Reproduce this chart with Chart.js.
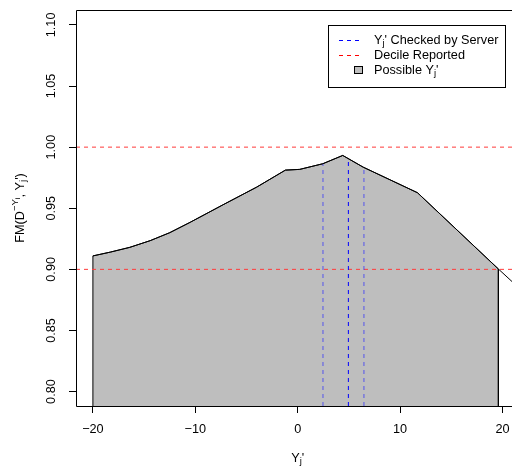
<!DOCTYPE html>
<html>
<head>
<meta charset="utf-8">
<script src="https://cdn.jsdelivr.net/npm/chart.js@4.4.1/dist/chart.umd.min.js"></script>
<style>
  html, body { margin: 0; padding: 0; background: #fff; }
</style>
</head>
<body>
<canvas id="fmChart" width="512" height="471"></canvas>
<script>
// curve
var curveX = [-20, -18.3, -16.4, -14.4, -12.5, -10.5, -7.3, -4.0, -1.2, 0.2, 2.45, 4.4, 6.4, 11.7, 19.6, 21.0];
var curveY = [0.9110, 0.9141, 0.9180, 0.9235, 0.9300, 0.9385, 0.9528, 0.9673, 0.9812, 0.9818, 0.9864, 0.9932, 0.9836, 0.9627, 0.9003, 0.8895];
var fillEnd = 19.6;

// values checked by the server (blue), decile lines (red)
var checkedX = [2.47, 4.95, 6.47];
var checkedTop = [0.9864, 0.9905, 0.9833];
var decileY = [0.90, 1.00];

var xTicks = [-20, -10, 0, 10, 20];
var yTicks = [0.80, 0.85, 0.90, 0.95, 1.00, 1.05, 1.10];
var xRange = [-21.65, 20.93];
var yRange = [0.7882, 1.1122];

var font = "'Liberation Sans', Arial, sans-serif";
var fs = 12.7;

// the shaded area: closed down to the axis at both ends
var areaPts = [{x: curveX[0], y: yRange[0]}];
curveX.forEach(function(x, i) {
  if (x <= fillEnd) areaPts.push({x: x, y: curveY[i]});
});
areaPts.push({x: fillEnd, y: yRange[0]});

var linePts = curveX.map(function(x, i) { return {x: x, y: curveY[i]}; });

var datasets = [];
// curve on top
datasets.push({
  data: linePts, borderColor: '#000', borderWidth: 1, pointRadius: 0, fill: false, order: 0
});
var blueCols = ['rgba(40,40,255,0.7)', '#0000ff', 'rgba(40,40,255,0.7)'];
checkedX.forEach(function(x, i) {
  datasets.push({
    data: [{x: x, y: yRange[0]}, {x: x, y: checkedTop[i]}],
    borderColor: blueCols[i], borderWidth: 1, borderDash: [4, 4], pointRadius: 0, fill: false, order: 1
  });
});
decileY.forEach(function(y) {
  datasets.push({
    data: [{x: xRange[0], y: y}, {x: xRange[1], y: y}],
    borderColor: '#ff3b3b', borderWidth: 1, borderDash: [4, 4], pointRadius: 0, fill: false, order: 2
  });
});
datasets.push({
  data: areaPts, borderColor: '#000', borderWidth: 1, backgroundColor: '#bebebe',
  pointRadius: 0, fill: 'start', order: 3
});

// text with sub/superscripts: parts = [[text, mode]], 0 normal, 1 sub, 2 sup, 3 sub of sup
function partSize(mode, size) {
  return mode === 0 ? size : (mode === 3 ? size * 0.6 : size * 0.75);
}
function drawRich(ctx, parts, x, y, size, align) {
  var w = 0;
  parts.forEach(function(p) {
    ctx.font = partSize(p[1], size) + 'px ' + font;
    w += ctx.measureText(p[0]).width;
  });
  var cx = align === 'center' ? x - w / 2 : x;
  ctx.textBaseline = 'middle';
  ctx.textAlign = 'left';
  parts.forEach(function(p) {
    var dy = 0;
    if (p[1] === 1) dy = size * 0.3;
    if (p[1] === 2) dy = -size * 0.38;
    if (p[1] === 3) dy = -size * 0.2;
    ctx.font = partSize(p[1], size) + 'px ' + font;
    ctx.fillText(p[0], cx, y + dy);
    cx += ctx.measureText(p[0]).width;
  });
}

var extras = {
  id: 'extras',
  afterDraw: function(chart) {
    var ctx = chart.ctx, a = chart.chartArea;
    ctx.save();
    // box (right side is cut by the picture edge)
    ctx.strokeStyle = '#000';
    ctx.lineWidth = 1;
    ctx.beginPath();
    ctx.moveTo(a.right, a.top + 0.5);
    ctx.lineTo(a.left + 0.5, a.top + 0.5);
    ctx.lineTo(a.left + 0.5, a.bottom + 0.5);
    ctx.lineTo(a.right, a.bottom + 0.5);
    ctx.stroke();

    ctx.fillStyle = '#000';
    // axis titles
    drawRich(ctx, [['Y', 0], ['j', 1], ["'", 0]], chart.scales.x.getPixelForValue(0), 458, fs, 'center');
    ctx.save();
    ctx.translate(20, (a.top + a.bottom) / 2);
    ctx.rotate(-Math.PI / 2);
    drawRich(ctx, [['FM(D', 0], ['\u2212Y', 2], ['i', 3], [', Y', 0], ['j', 1], ["')", 0]], 0, 0, fs, 'center');
    ctx.restore();

    // legend
    var lx = 328.5, ly = 25.5, lw = 177, lh = 62;
    ctx.fillStyle = '#fff';
    ctx.fillRect(lx, ly, lw, lh);
    ctx.strokeStyle = '#000';
    ctx.strokeRect(lx, ly, lw, lh);
    var rows = [40, 55, 70];
    ctx.setLineDash([4, 4]);
    ctx.strokeStyle = '#0000ff';
    ctx.beginPath(); ctx.moveTo(339, rows[0] + 0.5); ctx.lineTo(361, rows[0] + 0.5); ctx.stroke();
    ctx.strokeStyle = '#ff0000';
    ctx.beginPath(); ctx.moveTo(339, rows[1] + 0.5); ctx.lineTo(361, rows[1] + 0.5); ctx.stroke();
    ctx.setLineDash([]);
    ctx.fillStyle = '#bebebe';
    ctx.fillRect(354.5, rows[2] - 3.5, 8, 7);
    ctx.strokeStyle = '#000';
    ctx.strokeRect(354.5, rows[2] - 3.5, 8, 7);
    ctx.fillStyle = '#000';
    drawRich(ctx, [['Y', 0], ['j', 1], ["' Checked by Server", 0]], 374, rows[0], fs, 'left');
    drawRich(ctx, [['Decile Reported', 0]], 374, rows[1], fs, 'left');
    drawRich(ctx, [['Possible Y', 0], ['j', 1], ["'", 0]], 374, rows[2], fs, 'left');
    ctx.restore();
  }
};

new Chart(document.getElementById('fmChart'), {
  type: 'line',
  data: { datasets: datasets },
  plugins: [extras],
  options: {
    responsive: false,
    animation: false,
    devicePixelRatio: 1,
    layout: { padding: { top: 10, right: 0, bottom: 0, left: 0 } },
    plugins: { legend: { display: false }, tooltip: { enabled: false } },
    elements: { line: { tension: 0 } },
    scales: {
      x: {
        type: 'linear',
        min: xRange[0], max: xRange[1],
        afterFit: function(s) { s.height = 65; s.paddingLeft = 0; s.paddingRight = 0; },
        afterBuildTicks: function(s) { s.ticks = xTicks.map(function(v) { return {value: v}; }); },
        grid: { drawOnChartArea: false, drawTicks: true, tickLength: 7, color: '#000' },
        border: { display: false },
        ticks: {
          color: '#000', padding: 9, maxRotation: 0,
          font: { family: font, size: fs },
          callback: function(v) { return v < 0 ? '\u2212' + Math.abs(v) : String(v); }
        }
      },
      y: {
        type: 'linear',
        min: yRange[0], max: yRange[1],
        afterFit: function(s) { s.width = 76; s.paddingTop = 0; s.paddingBottom = 0; },
        afterBuildTicks: function(s) { s.ticks = yTicks.map(function(v) { return {value: v}; }); },
        grid: { drawOnChartArea: false, drawTicks: true, tickLength: 7, color: '#000' },
        border: { display: false },
        ticks: {
          color: '#000', padding: 5, minRotation: 90, maxRotation: 90, crossAlign: 'center',
          font: { family: font, size: fs },
          callback: function(v) { return v.toFixed(2); }
        }
      }
    }
  }
});
</script>
</body>
</html>
